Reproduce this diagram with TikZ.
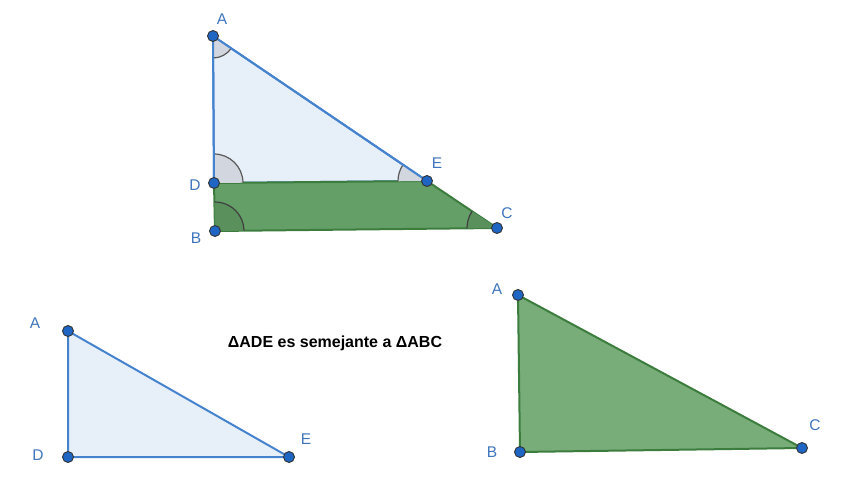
\documentclass[tikz,border=0pt]{standalone}
\usepackage{fontspec}
\setmainfont{Liberation Sans}
\usetikzlibrary{angles}
\definecolor{lineblue}{HTML}{4583CF}
\definecolor{fillblue}{HTML}{E7EFF9}
\definecolor{ptblue}{HTML}{1F66C4}
\definecolor{lblblue}{HTML}{3E74BC}
\definecolor{edgegreen}{HTML}{3C7D3E}
\definecolor{fillgreen}{HTML}{659F68}
\definecolor{fillgreenb}{HTML}{78AC78}
\definecolor{anggray}{HTML}{D2D6DF}
\tikzset{
  pt/.style={circle, fill=ptblue, draw=black!80, line width=0.9pt, inner sep=0pt, minimum size=11pt},
  lbl/.style={text=lblblue, font=\fontsize{15.5}{16}\selectfont},
  blueside/.style={draw=lineblue, line width=2pt, fill=fillblue, line join=round},
  greenside/.style={draw=edgegreen, line width=2pt, fill=fillgreen, line join=round},
  anga/.style={draw=black!65, line width=1.2pt, fill=anggray},
  angb/.style={draw=black!75, line width=1.2pt, fill=edgegreen!85}
}
\begin{document}
\begin{tikzpicture}[x=1pt, y=-1pt]
  \useasboundingbox (0,0) rectangle (852,500);
  % triangulo grande
  \coordinate (A1) at (213,36);
  \coordinate (D1) at (214,183);
  \coordinate (E1) at (427,181);
  \coordinate (B1) at (215,231);
  \coordinate (C1) at (497,228);
  \draw[blueside] (A1) -- (D1) -- (E1) -- cycle;
  \draw[greenside] (D1) -- (B1) -- (C1) -- (E1) -- cycle;
  \pic[anga, angle radius=22pt] {angle=D1--A1--E1};
  \pic[anga, angle radius=29pt] {angle=E1--D1--A1};
  \pic[anga, angle radius=29pt] {angle=A1--E1--D1};
  \pic[angb, angle radius=29pt] {angle=C1--B1--D1};
  \pic[angb, angle radius=30pt] {angle=E1--C1--B1};
  \draw[lineblue, line width=2pt] (A1) -- (D1);
  \draw[lineblue, line width=2pt] (A1) -- (E1);
  \node[pt] (pA1) at (A1) {};
  \node[pt] (pD1) at (D1) {};
  \node[pt] (pE1) at (E1) {};
  \node[pt] (pB1) at (B1) {};
  \node[pt] (pC1) at (C1) {};
  \node[lbl] at (222,19) {A};
  \node[lbl] at (195,185) {D};
  \node[lbl] at (437,163) {E};
  \node[lbl] at (196,238) {B};
  \node[lbl] at (507,213) {C};
  % triangulo ADE
  \coordinate (A2) at (68,331);
  \coordinate (D2) at (68,457);
  \coordinate (E2) at (289,457);
  \draw[blueside] (A2) -- (D2) -- (E2) -- cycle;
  \node[pt] (pA2) at (A2) {};
  \node[pt] (pD2) at (D2) {};
  \node[pt] (pE2) at (E2) {};
  \node[lbl] at (35,323) {A};
  \node[lbl] at (38,455) {D};
  \node[lbl] at (306,439) {E};
  % triangulo ABC
  \coordinate (A3) at (518,295);
  \coordinate (B3) at (520,452);
  \coordinate (C3) at (802,448);
  \draw[greenside, fill=fillgreenb] (A3) -- (B3) -- (C3) -- cycle;
  \node[pt] (pA3) at (A3) {};
  \node[pt] (pB3) at (B3) {};
  \node[pt] (pC3) at (C3) {};
  \node[lbl] at (497,289) {A};
  \node[lbl] at (492,452) {B};
  \node[lbl] at (815,425) {C};
  \node[font=\fontsize{16}{16}\selectfont\bfseries] (txt) at (335,343) {ΔADE es semejante a ΔABC};
\end{tikzpicture}
\end{document}
